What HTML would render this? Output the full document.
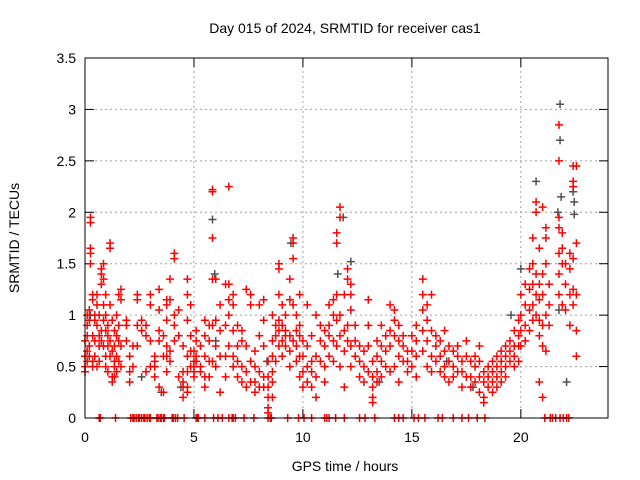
<!DOCTYPE html>
<html><head><meta charset="utf-8"><style>
html,body{margin:0;padding:0;background:#fff;}
svg{display:block;font-family:"Liberation Sans",sans-serif;}
</style></head><body>
<svg id="chart" width="640" height="480" viewBox="0 0 640 480">
<text x="345" y="33" font-size="14" text-anchor="middle">Day 015 of 2024, SRMTID for receiver cas1</text>
<text transform="translate(19,238) rotate(-90)" font-size="14" text-anchor="middle">SRMTID / TECUs</text>
<text x="345" y="471" font-size="14" text-anchor="middle">GPS time / hours</text>
<g id="grid"></g>
<g id="ticks"></g>
<g id="grey"></g>
<g id="red"></g>
<rect x="85" y="58" width="523" height="360" fill="none" stroke="#000" stroke-width="1"/>
</svg>
<script>
const xTicks=[0,5,10,15,20];
const yTicks=[0,0.5,1,1.5,2,2.5,3,3.5];
const yTickLabels=["0","0.5","1","1.5","2","2.5","3","3.5"];
const redClusters=[
[0.0,[.5,.6,.75,.45]],[0.1,[.65,.8,.9,.55,1.0]],[0.2,[.7,.95,1.05,.6]],[0.25,[1.9,1.95,1.6,1.65,1.5]],
[0.35,[1.2,1.15,.8,.55,.5]],[0.45,[1.0,.95,.75,.6]],[0.55,[1.2,1.1,.9,.5]],[0.65,[1.0,.8,.7,.55]],
[0.75,[1.45,1.4,1.3,.85,.75]],[0.85,[1.5,1.35,1.1,.95,.7]],[0.95,[1.2,1.0,.85,.6,.5]],[1.05,[.9,.8,.7,.45]],
[1.15,[1.7,1.65,1.1,.75,.6]],[1.25,[.95,.65,.4,.35]],[1.35,[.85,.7,.55,.5,.4]],[1.45,[.8,.6,.45,1.0]],
[1.55,[.9,.75,.55,1.2]],[1.65,[1.25,1.15,.7,.5]],[1.9,[.75,.95,.9]],[2.05,[.6,.45,.35]],[2.2,[.7,.5]],
[2.4,[1.2,1.15,.9,.7]],[2.6,[.95,.85]],[2.8,[.9,.8,.45]],[3.0,[1.1,1.2,.75,.5]],[3.2,[.6,.55,.5,.4]],
[3.4,[1.25,1.05,.85,.75,.3]],[3.6,[.8,.6,.25]],[3.75,[1.15,1.1,.95,.7,.6,.45]],[3.9,[1.35,1.15,.65,.55]],
[4.1,[1.55,1.6,1.0,.9,.75]],[4.3,[1.05,.8,.4]],[4.5,[.7,.45,.35,.3,.2]],[4.7,[1.35,1.2,.95,.6,.45,.3,.25]],
[4.85,[1.1,.8,.65,.5]],[5.0,[.65,.55,.5,.45,.4]],[5.1,[.85,.75,.6,.55]],[5.3,[.7,.5,.45]],
[5.5,[.95,.8,.6,.4,.3]],[5.7,[.9,.75,.55,.4]],[5.85,[2.2,2.22,1.75,1.35,.9,.55]],[6.0,[1.35,.95,.7,.5]],
[6.2,[1.1,.85,.6,.25]],[6.45,[1.3,.9,.6,.4]],[6.6,[2.25,1.3,1.15,1.0,.7]],[6.8,[1.2,1.1,.85,.6,.5]],
[7.0,[.9,.7,.55,.4]],[7.2,[.85,.75,.5,.35]],[7.4,[1.25,.7,.45,.3]],[7.6,[1.2,1.1,.55,.35]],
[7.8,[.65,.5,.35,.25]],[8.0,[1.1,.8,.45,.3]],[8.2,[1.15,.95,.7,.4,.3]],[8.4,[.55,.4,.3,.2,.1,.05]],
[8.6,[1.0,.75,.6,.45,.35,.2]],[8.75,[.9,.8,.55]],[8.9,[1.5,1.45,1.2,.95,.85,.7]],[9.05,[1.1,.9,.75,.6]],
[9.2,[1.0,.85,.8,.7]],[9.4,[1.35,1.15,.8,.65,.5]],[9.55,[1.75,1.7,1.55,1.1,.75]],[9.7,[1.0,.85,.7,.55]],
[9.85,[1.2,.9,.8,.6,.4]],[10.0,[.75,.6,.45,.3]],[10.2,[1.1,.7,.5,.35]],[10.4,[.8,.55,.45,.3]],
[10.6,[1.0,.6,.4,.2]],[10.8,[.9,.75,.55]],[11.0,[.85,.7,.5,.35]],[11.2,[1.1,.9,.8,.6]],
[11.4,[1.15,1.0,.75,.55]],[11.55,[1.8,1.7,1.2,.95,.7]],[11.7,[2.05,1.95,1.0,.8,.5]],[11.9,[1.2,.85,.65,.3]],
[12.05,[1.45,1.35,.9,.75]],[12.2,[1.3,1.2,1.05,.7,.5]],[12.4,[.9,.75,.6]],[12.6,[.7,.55,.4]],
[12.8,[.65,.5,.35]],[13.0,[1.15,.9,.7,.45]],[13.2,[.55,.4,.3,.2,.15]],[13.4,[.75,.6,.45,.35]],
[13.6,[.9,.7,.55,.4]],[13.8,[.8,.65,.5]],[14.0,[1.1,.85,.7,.45]],[14.2,[1.05,.95,.8,.5]],
[14.4,[.9,.75,.6,.35]],[14.6,[.8,.7,.55]],[14.8,[.65,.55,.45]],[15.0,[.8,.65,.5]],
[15.2,[.9,.75,.6,.4]],[15.5,[1.35,1.2,1.05,.85,.65]],[15.7,[1.1,.95,.75,.5]],[15.9,[1.2,.85,.6,.45]],
[16.1,[.8,.7,.55]],[16.3,[.75,.6,.45]],[16.5,[.85,.65,.5,.4]],[16.7,[.7,.55,.35]],[16.9,[.65,.5,.4]],
[17.1,[.7,.6,.45]],[17.3,[.55,.45,.3]],[17.5,[.75,.6,.4]],[17.7,[.55,.4,.3]],[17.9,[.6,.5,.35]],
[18.1,[.7,.55,.4,.25]],[18.3,[.45,.35,.2,.15]],[18.5,[.5,.4,.3]],[18.7,[.55,.45,.35,.25]],
[18.9,[.6,.5,.4,.3]],[19.1,[.65,.55,.45,.35]],[19.3,[.7,.6,.5,.4]],[19.5,[.75,.65,.55]],
[19.7,[.85,.7,.6,.5]],[19.9,[.95,.8,.7,.55]],[20.0,[1.2,1.0,.85,.7]],[20.2,[1.3,1.1,.9,.75]],
[20.4,[1.45,1.25,1.05,.85]],[20.55,[1.75,1.5,1.3,1.1,.95]],[20.7,[2.1,2.0,1.4,1.2,1.0]],
[20.85,[1.65,1.3,1.15,.95,.8,.35]],[21.0,[2.05,1.4,1.2,.9,.7,.2]],[21.15,[1.85,1.75,1.5,1.0,.65]],
[21.3,[1.3,1.1,.9]],[21.75,[2.85,2.5,1.95,1.85,1.6,1.4,1.2]],[21.9,[1.8,1.65,1.5,1.1]],
[22.05,[1.5,1.3,1.05]],[22.25,[1.6,1.45,1.2,.9]],[22.4,[2.45,2.3,2.25,1.55,1.25,1.1]],
[22.55,[2.45,1.7,1.2,.85,.6]]
];
const zeroHours=[0.65,0.7,1.4,2.1,2.2,2.25,2.35,2.45,2.5,2.6,2.7,2.75,2.85,2.95,3.0,3.3,3.35,3.45,3.5,3.6,3.65,4.0,4.05,4.15,4.25,4.55,5.1,5.15,5.2,5.5,5.9,6.1,6.3,6.6,6.75,6.8,6.9,7.3,7.75,8.4,8.5,8.55,9.3,9.8,10.05,10.4,11.0,11.1,11.2,11.5,11.9,12.6,12.85,13.3,14.2,14.4,14.6,15.1,15.3,15.6,16.2,16.4,16.9,17.3,17.6,18.0,18.35,21.1,21.35,21.45,21.6,21.8,21.95,22.1,22.2];
const greyHours=[5.85,5.95,21.8,21.8,20.7,22.45,22.4,22.45,11.85,12.2,11.6,9.45,21.75,22.1,19.55,20.0,8.35,4.4,3.5,0.25,6.0,13.5,16.6,2.6,17.8,21.7,21.85];
const greyValues=[1.93,1.4,3.05,2.7,2.3,1.98,2.2,2.1,1.95,1.52,1.4,1.7,1.05,0.35,1.0,1.45,0.55,0.3,0.25,1.0,0.75,0.35,0.55,0.4,0.3,2.0,2.15];

const X0=85,X1=608,Y0=418,Y1=58,XMAX=24,YMAX=3.5;
const sx=t=>X0+t/XMAX*(X1-X0);
const sy=v=>Y0-v/YMAX*(Y0-Y1);
const NS="http://www.w3.org/2000/svg";
function mk(tag,attrs,parent){const e=document.createElementNS(NS,tag);for(const k in attrs)e.setAttribute(k,attrs[k]);parent.appendChild(e);return e;}
const grid=document.getElementById('grid'),ticks=document.getElementById('ticks');
yTicks.forEach((v,i)=>{
  const y=sy(v);
  if(v>0&&v<YMAX){const l=mk('line',{x1:X0,x2:X1,y1:y,y2:y,stroke:'#a0a0a0','stroke-dasharray':'2,3'},grid);
  
  }
  mk('line',{x1:X0,x2:X0+9,y1:y,y2:y,stroke:'#000'},ticks);
  mk('line',{x1:X1-9,x2:X1,y1:y,y2:y,stroke:'#000'},ticks);
  const t=mk('text',{x:X0-9,y:y+5,'font-size':14,'text-anchor':'end'},ticks);
  
  
  t.textContent=yTickLabels[i];
});
xTicks.forEach(v=>{
  const x=sx(v);
  if(v>0){const l=mk('line',{x1:x,x2:x,y1:Y0,y2:Y1,stroke:'#a0a0a0','stroke-dasharray':'2,3'},grid);
  
  }
  mk('line',{x1:x,x2:x,y1:Y0,y2:Y0-9,stroke:'#000'},ticks);
  mk('line',{x1:x,x2:x,y1:Y1,y2:Y1+9,stroke:'#000'},ticks);
  const t=mk('text',{x:x,y:Y0+24,'font-size':14,'text-anchor':'middle'},ticks);
  
  
  t.textContent=String(v);
});
function plus(g,t,v,color,name){
  const x=sx(t),y=sy(v);
  const p=mk('path',{d:`M${x-4},${y}h8M${x},${y-4}v8`,stroke:color,'stroke-width':1.5,fill:'none'},g);
  
  
}
const grey=document.getElementById('grey'),red=document.getElementById('red');
greyHours.forEach((t,i)=>plus(grey,t,greyValues[i],'#505050','grey-point'));
redClusters.forEach(([t,vals])=>vals.forEach(v=>plus(red,t,v,'#ff0000','red-point')));
zeroHours.forEach(t=>plus(red,t,0,'#ff0000','zero-point'));
</script>
</body></html>
